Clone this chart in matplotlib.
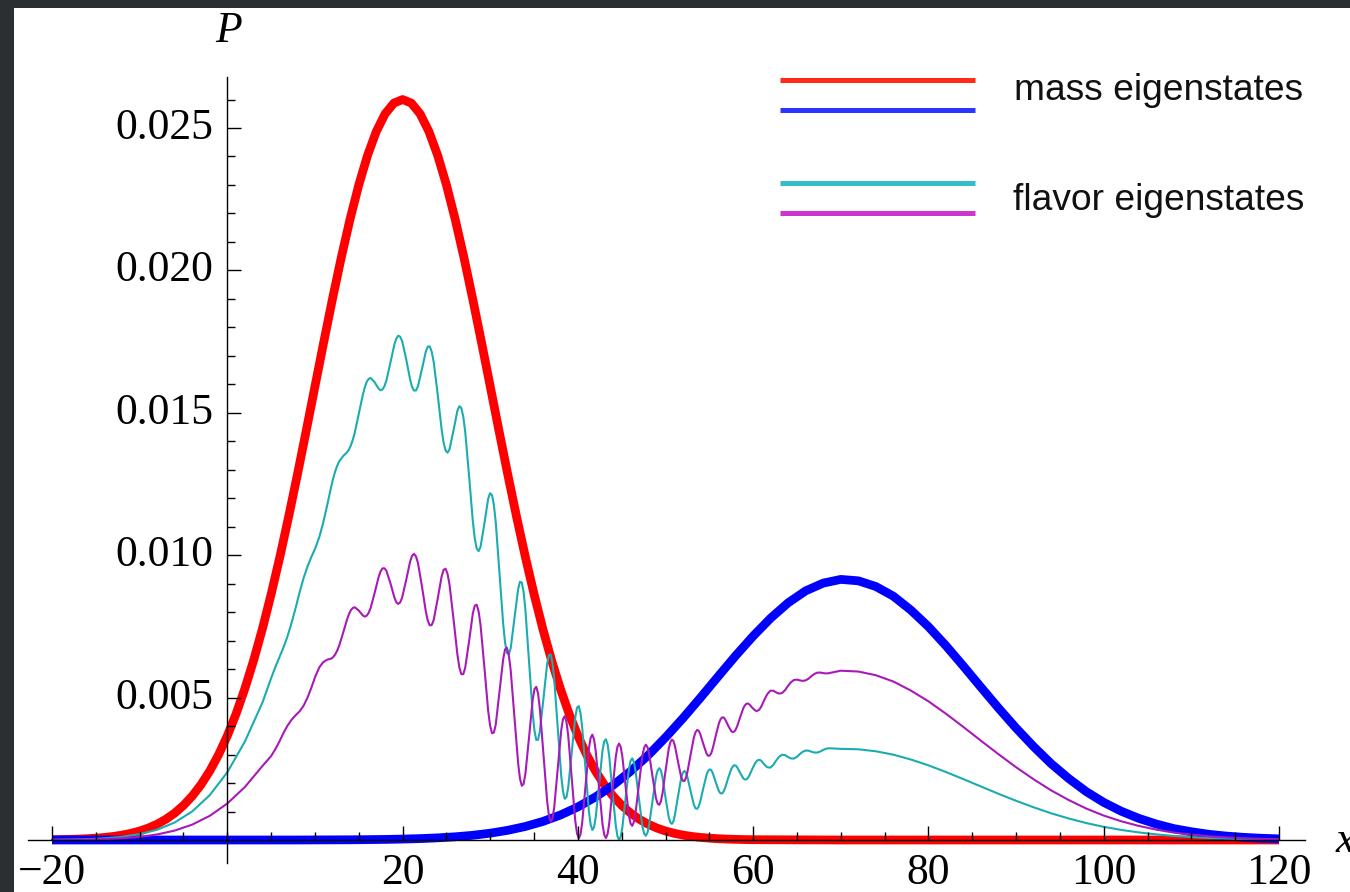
import matplotlib
matplotlib.use('Agg')
import matplotlib.pyplot as plt
from matplotlib.lines import Line2D

plt.rcParams['font.family'] = ['Liberation Serif', 'DejaVu Serif']

# mass eigenstate 1 (red)
red_x = list(range(-20, 61)) + [70, 80, 90, 100, 110, 120]
red_y = [0.00001, 0.000015, 0.000022, 0.000032, 0.000045, 0.000064, 0.00009, 0.000125, 0.000172, 0.000234,
         0.000315, 0.000421, 0.000557, 0.00073, 0.000946, 0.001215, 0.001545, 0.001945, 0.002425, 0.002993,
         0.003659, 0.00443, 0.005312, 0.006305, 0.007412, 0.00863, 0.009947, 0.011355, 0.012835, 0.014367,
         0.015926, 0.017479, 0.018999, 0.020448, 0.021794, 0.023001, 0.024039, 0.024878, 0.025495, 0.025873,
         0.026, 0.025873, 0.025495, 0.024878, 0.024039, 0.023001, 0.021794, 0.020448, 0.018999, 0.017479,
         0.015926, 0.014367, 0.012835, 0.011355, 0.009947, 0.00863, 0.007412, 0.006305, 0.005312, 0.00443,
         0.003659, 0.002993, 0.002425, 0.001945, 0.001545, 0.001215, 0.000946, 0.00073, 0.000557, 0.000421,
         0.000315, 0.000234, 0.000172, 0.000125, 0.00009, 0.000064, 0.000045, 0.000032, 0.000022, 0.000015, 0.00001,
         0, 0, 0, 0, 0, 0]

# mass eigenstate 2 (blue)
blue_x = list(range(-20, 121, 2))
blue_y = [0, 0, 0, 0, 0, 0, 0, 0, 0, 0, 0, 0, 0, 0, 0,
          0.000003, 0.000005, 0.000007, 0.000013, 0.00002, 0.000032, 0.000049, 0.000075, 0.000112, 0.000165,
          0.000239, 0.00034, 0.000474, 0.00065, 0.000876, 0.00116, 0.00151, 0.00192, 0.00241, 0.00297,
          0.0036, 0.00428, 0.005, 0.00574, 0.00647, 0.00716, 0.00779, 0.00833, 0.00875, 0.00902,
          0.00915, 0.0091, 0.0089, 0.00856, 0.00807, 0.00749, 0.00682, 0.0061, 0.00536, 0.00463,
          0.00393, 0.00328, 0.00268, 0.00216, 0.0017, 0.00132, 0.00101, 0.00076, 0.00056, 0.0004,
          0.00029, 0.0002, 0.000137, 0.000092, 0.000061, 0.00004]

# flavor eigenstates (cyan, magenta), sampled along the oscillations
flavor_x = [-20, -18, -16, -14, -12, -10, -8, -6, -4, -2, 0, 2, 4,
            5.0, 5.4625, 5.925, 6.3875, 6.85, 7.3125, 7.775, 8.2375, 8.7, 9.15, 9.6, 10.05, 10.5, 10.95, 11.4, 11.85, 12.075, 12.3, 12.525,
            12.75, 13.2, 13.65, 13.875, 14.1, 14.325, 14.55, 15.0, 15.45, 15.675, 15.9, 16.125,
            16.35, 16.8, 17.25, 17.475, 17.7, 17.925, 18.15, 18.6, 19.05, 19.275, 19.5, 19.725,
            19.95, 20.4, 20.85, 21.075, 21.3, 21.525, 21.75, 22.2, 22.65, 22.875, 23.1, 23.325,
            23.55, 24.0, 24.45, 24.675, 24.9, 25.125, 25.35, 25.8, 26.25, 26.475, 26.7, 26.92,
            27.14, 27.58, 28.01, 28.23, 28.45, 28.67, 28.89, 29.33, 29.76, 29.98, 30.2, 30.415,
            30.63, 31.05, 31.48, 31.69, 31.9, 32.115, 32.33, 32.75, 33.18, 33.39, 33.6, 33.805,
            34.01, 34.43, 34.84, 35.045, 35.25, 35.455, 35.66, 36.08, 36.49, 36.695, 36.9, 37.1,
            37.3, 37.7, 38.1, 38.3, 38.5, 38.7, 38.9, 39.3, 39.7, 39.9, 40.1, 40.295,
            40.49, 40.88, 41.26, 41.455, 41.65, 41.845, 42.04, 42.43, 42.81, 43.005, 43.2, 43.39,
            43.58, 43.95, 44.33, 44.515, 44.7, 44.89, 45.08, 45.45, 45.83, 46.015, 46.2, 46.395,
            46.59, 46.98, 47.36, 47.555, 47.75, 47.945, 48.14, 48.53, 48.91, 49.105, 49.3, 49.48,
            49.66, 50.01, 50.37, 50.55, 50.73, 50.905, 51.08, 51.44, 51.79, 51.97, 52.15, 52.33,
            52.51, 52.88, 53.24, 53.42, 53.6, 53.78, 53.96, 54.33, 54.69, 54.87, 55.05, 55.225,
            55.4, 55.75, 56.1, 56.275, 56.45, 56.625, 56.8, 57.15, 57.5, 57.675, 57.85, 58.02,
            58.19, 58.54, 58.88, 59.055, 59.23, 59.4, 59.57, 59.91, 60.26, 60.43, 60.6, 60.769,
            60.9375, 61.275, 61.6125, 61.95, 62.2875, 62.625, 62.9625, 63.3, 63.6375, 63.975, 64.3125, 64.65,
            64.9875, 65.325, 65.6625, 66.0, 66.325, 66.65, 66.975, 67.3, 67.625, 67.95, 68.275, 68.6,
            70, 72, 74, 76, 78, 80, 82, 84, 86, 88, 90, 92, 94, 96, 98, 100,
            102, 104, 106, 108, 110, 112, 114, 116, 118, 120]

cyan_y = [0.0000065, 0.0000143, 0.0000293, 0.0000585, 0.000112, 0.000205, 0.000362, 0.000615, 0.001004, 0.001576, 0.002378, 0.003453, 0.004818,
          0.005682, 0.006058, 0.006401, 0.006747, 0.007133, 0.007604, 0.008124, 0.008688, 0.009193, 0.009605, 0.009946, 0.010253, 0.010642, 0.011152, 0.01176, 0.012404, 0.01269, 0.012935, 0.013132,
          0.013287, 0.013475, 0.01361, 0.013706, 0.013857, 0.014058, 0.014314, 0.014955, 0.015614, 0.015884, 0.016082, 0.016189,
          0.016224, 0.016077, 0.015854, 0.01579, 0.015818, 0.01593, 0.016135, 0.016746, 0.017382, 0.017602, 0.017707, 0.017671,
          0.017519, 0.016899, 0.016182, 0.015911, 0.015781, 0.015784, 0.015928, 0.016522, 0.017151, 0.017323, 0.017328, 0.017139,
          0.016783, 0.015651, 0.014427, 0.013956, 0.013679, 0.0136, 0.013716, 0.014369, 0.015069, 0.01523, 0.015171, 0.01487,
          0.014349, 0.012805, 0.011201, 0.010598, 0.01024, 0.010142, 0.010288, 0.011105, 0.011977, 0.012176, 0.012111, 0.011765,
          0.011154, 0.00939, 0.007579, 0.006935, 0.006572, 0.006509, 0.006726, 0.007752, 0.008804, 0.009068, 0.009041, 0.00871,
          0.008089, 0.006267, 0.004455, 0.003838, 0.003515, 0.003518, 0.003816, 0.004987, 0.006179, 0.006492, 0.006512, 0.006224,
          0.005642, 0.003932, 0.002251, 0.001706, 0.001448, 0.001507, 0.001853, 0.003091, 0.00431, 0.004644, 0.004701, 0.004468,
          0.003958, 0.00245, 0.000994, 0.000543, 0.000352, 0.000449, 0.000807, 0.001991, 0.003141, 0.003461, 0.003538, 0.003359,
          0.002938, 0.001685, 0.000488, 0.000136, 0.000006, 0.000117, 0.00045, 0.001501, 0.002501, 0.002784, 0.002866, 0.002734,
          0.002401, 0.001413, 0.000488, 0.000229, 0.000147, 0.000258, 0.000545, 0.001409, 0.002217, 0.002446, 0.002521, 0.002432,
          0.002189, 0.001464, 0.000795, 0.000615, 0.000567, 0.000663, 0.000892, 0.001562, 0.002182, 0.002361, 0.002426, 0.002369,
          0.002199, 0.001691, 0.001229, 0.001113, 0.001092, 0.001172, 0.001347, 0.001843, 0.002296, 0.002428, 0.002481, 0.00245,
          0.00234, 0.002007, 0.001709, 0.00164, 0.001635, 0.001699, 0.001828, 0.002175, 0.002491, 0.002584, 0.002626, 0.002612,
          0.002546, 0.002342, 0.002162, 0.002125, 0.00213, 0.002178, 0.002268, 0.002503, 0.002717, 0.002781, 0.002813, 0.002811,
          0.002777, 0.002651, 0.002555, 0.00254, 0.00263, 0.00279, 0.002923, 0.002994, 0.002981, 0.002913, 0.002863, 0.002861,
          0.002918, 0.003017, 0.003097, 0.003141, 0.003136, 0.003099, 0.003071, 0.00307, 0.003102, 0.003157, 0.0032, 0.003222,
          0.0032, 0.003185, 0.003115, 0.002996, 0.002825, 0.002622, 0.002387, 0.002135, 0.001876, 0.00162, 0.001376, 0.001148, 0.000938,
          0.000756, 0.000595, 0.000462, 0.000354, 0.000266, 0.000196, 0.00014, 0.000102, 0.00007, 0.000048, 0.000032, 0.000021, 0.000014]

magenta_y = [0.0000035, 0.0000077, 0.0000158, 0.0000315, 0.0000602, 0.00011, 0.000195, 0.000331, 0.000541, 0.000849, 0.001281, 0.001859, 0.002594,
             0.002949, 0.003181, 0.003446, 0.003746, 0.004006, 0.004214, 0.004374, 0.004514, 0.004712, 0.004999, 0.005355, 0.00575, 0.006063, 0.006247, 0.006333, 0.006366, 0.006419, 0.006513, 0.006641,
             0.006811, 0.007258, 0.007732, 0.007929, 0.008071, 0.008149, 0.008171, 0.008057, 0.007888, 0.007844, 0.007873, 0.007974,
             0.008147, 0.008664, 0.009217, 0.009422, 0.009535, 0.009541, 0.009454, 0.009028, 0.008529, 0.008351, 0.008289, 0.008343,
             0.008512, 0.009116, 0.009764, 0.009976, 0.010047, 0.009959, 0.009731, 0.00892, 0.008026, 0.007698, 0.007537, 0.007549,
             0.007728, 0.008463, 0.00925, 0.009485, 0.009526, 0.00935, 0.00898, 0.007787, 0.006517, 0.00606, 0.005823, 0.005822,
             0.006042, 0.006966, 0.007948, 0.008227, 0.008262, 0.008031, 0.007556, 0.006078, 0.004551, 0.004018, 0.00375, 0.003771,
             0.004056, 0.005189, 0.006358, 0.006694, 0.006749, 0.006501, 0.005973, 0.004352, 0.002707, 0.00216, 0.001904, 0.001967,
             0.002321, 0.003609, 0.004919, 0.005296, 0.005378, 0.005145, 0.004617, 0.00299, 0.001377, 0.000864, 0.000644, 0.000748,
             0.001145, 0.002504, 0.003855, 0.004246, 0.004349, 0.004146, 0.003656, 0.00215, 0.000681, 0.000233, 0.00006, 0.000192,
             0.000599, 0.00192, 0.003212, 0.003586, 0.0037, 0.003536, 0.003111, 0.001805, 0.000553, 0.000189, 0.000068, 0.00021,
             0.000594, 0.001789, 0.002937, 0.003273, 0.003386, 0.003263, 0.002918, 0.001855, 0.000853, 0.000575, 0.000497, 0.000638,
             0.000979, 0.001996, 0.002957, 0.00324, 0.003346, 0.003263, 0.003003, 0.002203, 0.001463, 0.001273, 0.001237, 0.001364,
             0.001645, 0.00245, 0.003207, 0.003433, 0.003526, 0.003476, 0.003293, 0.002724, 0.002204, 0.00208, 0.002069, 0.00218,
             0.002404, 0.003029, 0.003607, 0.003782, 0.003862, 0.003841, 0.003725, 0.003355, 0.003025, 0.002956, 0.002965, 0.003058,
             0.003229, 0.003684, 0.004106, 0.004237, 0.004304, 0.004303, 0.004237, 0.004014, 0.00382, 0.003789, 0.003809, 0.003883,
             0.004008, 0.004334, 0.004632, 0.004728, 0.004783, 0.004792, 0.00476, 0.00464, 0.00454, 0.004531, 0.004554, 0.004607,
             0.004693, 0.004923, 0.005121, 0.005238, 0.005245, 0.005182, 0.00514, 0.005161, 0.005259, 0.005411, 0.005539, 0.005619,
             0.005632, 0.005604, 0.005587, 0.005606, 0.005665, 0.005755, 0.005828, 0.005874, 0.00588, 0.005862, 0.005848, 0.005855,
             0.005944, 0.005915, 0.005785, 0.005564, 0.005246, 0.004869, 0.004433, 0.003965, 0.003484, 0.00301, 0.002555, 0.002132, 0.001742,
             0.001404, 0.001105, 0.000858, 0.000657, 0.000494, 0.000364, 0.00026, 0.000189, 0.00013, 0.000089, 0.00006, 0.00004, 0.000026]

x_major = [-20, 20, 40, 60, 80, 100, 120]
x_labels = ['\u221220', '20', '40', '60', '80', '100', '120']
x_minor = list(range(-20, 121, 5))
y_major = [0.005, 0.010, 0.015, 0.020, 0.025]
y_labels = ['0.005', '0.010', '0.015', '0.020', '0.025']
y_minor = [i / 1000 for i in range(1, 27)]

legend_names = ['mass eigenstates', 'flavor eigenstates']

print(len(flavor_x), len(cyan_y), len(magenta_y))

fig = plt.figure(figsize=(13.5, 8.92), dpi=100)
fig.patch.set_facecolor('#2b2f32')
ax = fig.add_axes([14 / 1350, 0, 1336 / 1350, 884 / 892])
ax.set_facecolor('white')
ax.set_xlim(-24.34, 128.1)
ax.set_ylim(-0.001826, 0.029213)

ax.plot(red_x, red_y, color='#ff0000', lw=6.3, solid_capstyle='butt', solid_joinstyle='round', zorder=2)
ax.plot(blue_x, blue_y, color='#0000ff', lw=6.3, solid_capstyle='butt', solid_joinstyle='round', zorder=2.1)
ax.plot(flavor_x, cyan_y, color='#1aacb0', lw=1.5, solid_joinstyle='round', zorder=3)
ax.plot(flavor_x, magenta_y, color='#a81ab8', lw=1.5, solid_joinstyle='round', zorder=3.1)

# Mathematica-style axes crossing at the origin
ax.spines['top'].set_visible(False)
ax.spines['right'].set_visible(False)
ax.spines['left'].set_position(('data', 0))
ax.spines['bottom'].set_position(('data', 0))
ax.spines['left'].set_bounds(-0.0008, 0.0268)
ax.spines['bottom'].set_bounds(-22.7, 123)
for s in ['left', 'bottom']:
    ax.spines[s].set_linewidth(1.0)
    ax.spines[s].set_zorder(6)
ax.xaxis.set_zorder(6)
ax.yaxis.set_zorder(6)

ax.set_xticks(x_major, x_labels)
ax.set_xticks(x_minor, minor=True)
ax.set_yticks(y_major, y_labels)
ax.set_yticks(y_minor, minor=True)
ax.tick_params(which='major', direction='in', length=10, width=1.0, labelsize=31.5)
ax.tick_params(which='minor', direction='in', length=6, width=1.0)
ax.tick_params(axis='x', which='major', pad=9.5)
ax.tick_params(axis='y', which='major', pad=10)
for lab in ax.get_yticklabels():
    lab.set_va('center')

ax.text(0.14, 0.02802, 'P', fontsize=31.5, fontstyle='italic', ha='center', va='baseline')
ax.text(126.4, -0.00042, 'x', fontsize=31.5, fontstyle='italic', ha='left', va='baseline')

# legend drawn as in the original graphic
leg_colors = ['#ff2a18', '#2a36ff', '#36bec8', '#cc36cc']
leg_rows = [80, 110, 183, 213]
for c, py in zip(leg_colors, leg_rows):
    fig.add_artist(Line2D([780 / 1350, 975 / 1350], [1 - py / 892] * 2, color=c, lw=3.6,
                          solid_capstyle='butt'))
fig.text(1159 / 1350, 1 - 100 / 892, legend_names[0], ha='center', va='baseline',
         fontsize=26.7, family=['Liberation Sans', 'DejaVu Sans'], color='#111111')
fig.text(1159 / 1350, 1 - 210 / 892, legend_names[1], ha='center', va='baseline',
         fontsize=26.7, family=['Liberation Sans', 'DejaVu Sans'], color='#111111')

plt.savefig('out.png', dpi=100, facecolor=fig.get_facecolor())
